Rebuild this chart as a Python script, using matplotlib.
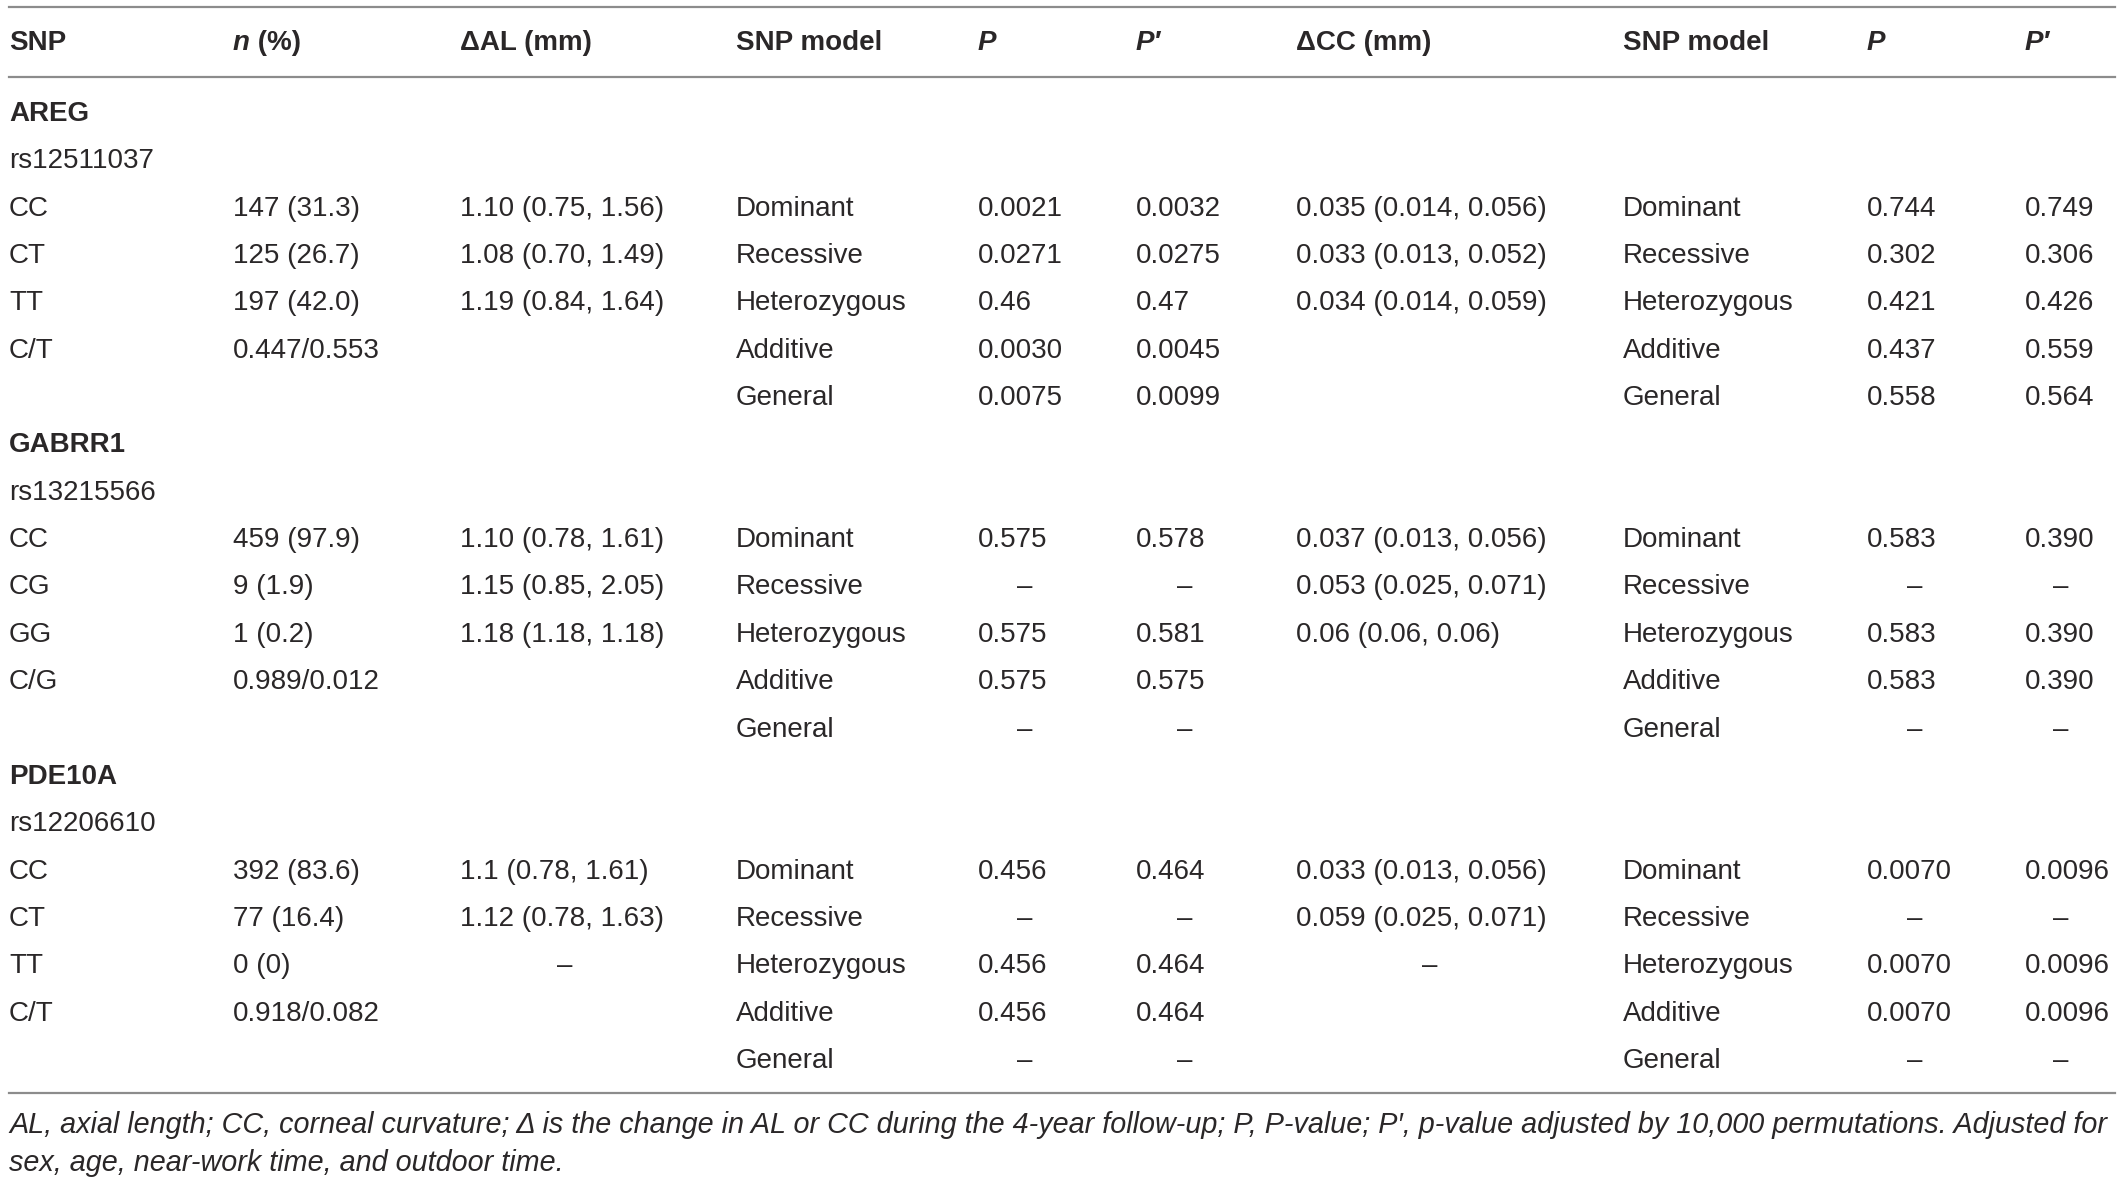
import matplotlib.pyplot as plt

# Table columns (one entry per row, "" = empty cell)
headers = ["SNP", "n", "ΔAL (mm)", "SNP model", "P", "P′",
           "ΔCC (mm)", "SNP model", "P", "P′"]
italic_headers = {"n", "P", "P′"}

snp = ["AREG", "rs12511037", "CC", "CT", "TT", "C/T", "",
       "GABRR1", "rs13215566", "CC", "CG", "GG", "C/G", "",
       "PDE10A", "rs12206610", "CC", "CT", "TT", "C/T", ""]
n_pct = ["", "", "147 (31.3)", "125 (26.7)", "197 (42.0)", "0.447/0.553", "",
         "", "", "459 (97.9)", "9 (1.9)", "1 (0.2)", "0.989/0.012", "",
         "", "", "392 (83.6)", "77 (16.4)", "0 (0)", "0.918/0.082", ""]
delta_al = ["", "", "1.10 (0.75, 1.56)", "1.08 (0.70, 1.49)", "1.19 (0.84, 1.64)", "", "",
            "", "", "1.10 (0.78, 1.61)", "1.15 (0.85, 2.05)", "1.18 (1.18, 1.18)", "", "",
            "", "", "1.1 (0.78, 1.61)", "1.12 (0.78, 1.63)", "–", "", ""]
model = ["", "", "Dominant", "Recessive", "Heterozygous", "Additive", "General"] * 3
p_al = ["", "", "0.0021", "0.0271", "0.46", "0.0030", "0.0075",
        "", "", "0.575", "–", "0.575", "0.575", "–",
        "", "", "0.456", "–", "0.456", "0.456", "–"]
pp_al = ["", "", "0.0032", "0.0275", "0.47", "0.0045", "0.0099",
         "", "", "0.578", "–", "0.581", "0.575", "–",
         "", "", "0.464", "–", "0.464", "0.464", "–"]
delta_cc = ["", "", "0.035 (0.014, 0.056)", "0.033 (0.013, 0.052)", "0.034 (0.014, 0.059)", "", "",
            "", "", "0.037 (0.013, 0.056)", "0.053 (0.025, 0.071)", "0.06 (0.06, 0.06)", "", "",
            "", "", "0.033 (0.013, 0.056)", "0.059 (0.025, 0.071)", "–", "", ""]
p_cc = ["", "", "0.744", "0.302", "0.421", "0.437", "0.558",
        "", "", "0.583", "–", "0.583", "0.583", "–",
        "", "", "0.0070", "–", "0.0070", "0.0070", "–"]
pp_cc = ["", "", "0.749", "0.306", "0.426", "0.559", "0.564",
         "", "", "0.390", "–", "0.390", "0.390", "–",
         "", "", "0.0096", "–", "0.0096", "0.0096", "–"]

footnote = ["AL, axial length; CC, corneal curvature; Δ is the change in AL or CC during the 4-year "
            "follow-up; P, P-value; P′, p-value adjusted by 10,000 permutations. Adjusted for",
            "sex, age, near-work time, and outdoor time."]

columns = [snp, n_pct, delta_al, model, p_al, pp_al, delta_cc, model, p_cc, pp_cc]
col_x = [9, 233, 460, 736, 978, 1136, 1296, 1623, 1867, 2025]
dash_x = [9, 233, 565, 736, 1025, 1185, 1430, 1623, 1915, 2061]

W, H = 2121, 1182
ink = "#2a2728"
plt.rcParams["font.family"] = ["Liberation Sans", "DejaVu Sans"]
fs = 20

fig = plt.figure(figsize=(W / 100, H / 100), dpi=100)
ax = fig.add_axes([0, 0, 1, 1])
ax.set_xlim(0, W)
ax.set_ylim(H, 0)
ax.axis("off")

for y in (7, 77, 1093):
    ax.plot([9, W - 6], [y, y], color="#8c8c8c", lw=1.6)

for x, h in zip(col_x, headers):
    style = "italic" if h in italic_headers else "normal"
    t = ax.text(x, 40, h, fontsize=fs, fontweight="bold", style=style, color=ink,
                va="center_baseline", ha="left")
    if h == "n":
        ax.annotate(" (%)", xy=(1, 0), xycoords=t, fontsize=fs, fontweight="bold",
                    color=ink, va="bottom", ha="left")

row_y0, row_h = 111, 47.35
bold_rows = {0, 7, 14}
for col, x, dx in zip(columns, col_x, dash_x):
    for i, val in enumerate(col):
        if not val:
            continue
        y = row_y0 + i * row_h
        if val == "–":
            ax.text(dx, y, val, fontsize=fs, color=ink, va="center_baseline", ha="center")
        else:
            ax.text(x, y, val, fontsize=fs, color=ink, va="center_baseline", ha="left",
                    fontweight="bold" if (x == col_x[0] and i in bold_rows) else "normal")

for y, line in zip((1122, 1160), footnote):
    ax.text(9, y, line, fontsize=20.7, style="italic", color=ink,
            va="center_baseline", ha="left")

fig.savefig("out.png", dpi=100)
